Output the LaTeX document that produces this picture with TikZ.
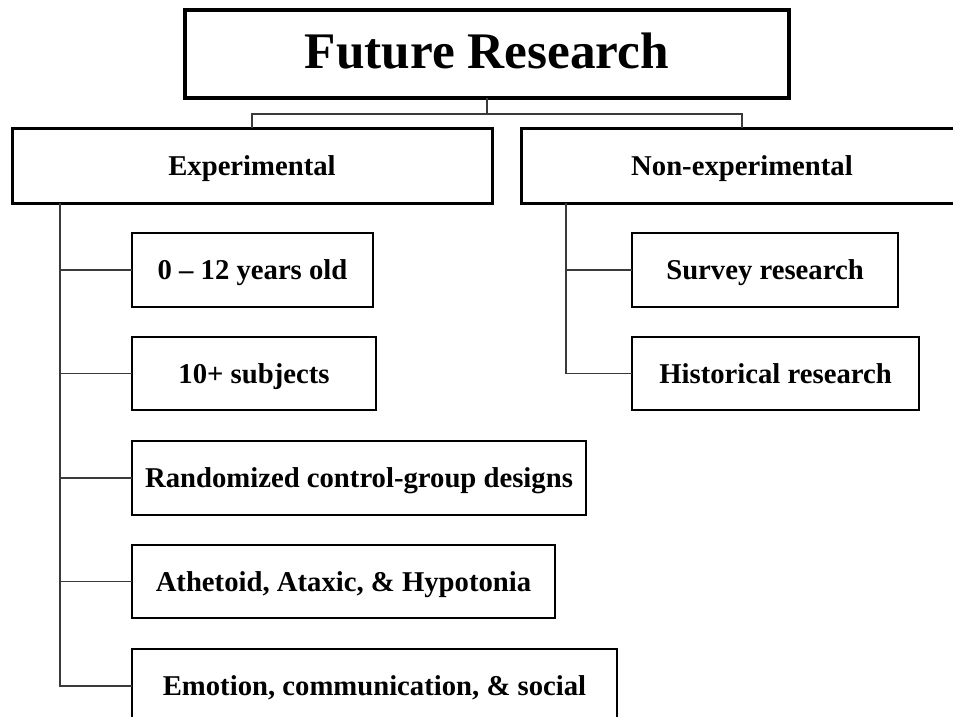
\documentclass[tikz,border=0pt]{standalone}
\usepackage{fontspec}
\setmainfont{Liberation Serif}
\usepackage{tikz}
\usetikzlibrary{positioning}
\definecolor{linkgray}{HTML}{3A3A3A}

\begin{document}
\begin{tikzpicture}[x=1pt, y=-1pt,
    headbox/.style={draw, line width=3pt, inner sep=0pt, outer sep=0pt,
          font=\bfseries\fontsize{28.7}{30}\selectfont, text height=19pt, text depth=0pt},
    itembox/.style={draw, line width=2pt, inner sep=0pt, outer sep=0pt, anchor=west,
          font=\bfseries\fontsize{28.7}{30}\selectfont, text height=19pt, text depth=0pt},
    link/.style={draw=linkgray, line width=1.3pt}]
    \clip (0,0) rectangle (953,717);

    \node[headbox, line width=3.5pt, minimum width=604pt, minimum height=88pt,
          font=\bfseries\fontsize{51.3}{56}\selectfont, text height=34pt, text depth=4pt] (title) at (487,54) {Future Research};
    \node[headbox, minimum width=480pt, minimum height=75pt] (exp) at (252,165.5) {Experimental};
    \node[headbox, minimum width=442pt, minimum height=75pt] (nonexp) at (742,165.5) {Non-experimental};

    % experimental branch
    \node[itembox, minimum width=241pt, minimum height=74pt] (age) at (132,270) {0 -- 12 years old};
    \node[itembox, minimum width=244pt, minimum height=73pt] (subj) at (132,373.5) {10+ subjects};
    \node[itembox, minimum width=454pt, minimum height=74pt] (rand) at (132,478) {Randomized control-group designs};
    \node[itembox, minimum width=423pt, minimum height=73pt] (athe) at (132,581.5) {Athetoid, Ataxic, \& Hypotonia};
    \node[itembox, minimum width=485pt, minimum height=74pt] (emo) at (132,686) {Emotion, communication, \& social};

    % non-experimental branch
    \node[itembox, minimum width=266pt, minimum height=74pt] (survey) at (632,270) {Survey research};
    \node[itembox, minimum width=287pt, minimum height=73pt] (hist) at (632,373.5) {Historical research};

    \draw[link] (title.south) -- ++(0,16) coordinate (split);
    \draw[link] (split) -| (exp.north);
    \draw[link] (split) -| (nonexp.north);

    \coordinate (exptrunk) at ([xshift=48pt]exp.south west);
    \coordinate (nontrunk) at ([xshift=45pt]nonexp.south west);
    \foreach \n in {age, subj, rand, athe, emo}
        \draw[link] (exptrunk) |- (\n.west);
    \foreach \n in {survey, hist}
        \draw[link] (nontrunk) |- (\n.west);
\end{tikzpicture}
\end{document}
